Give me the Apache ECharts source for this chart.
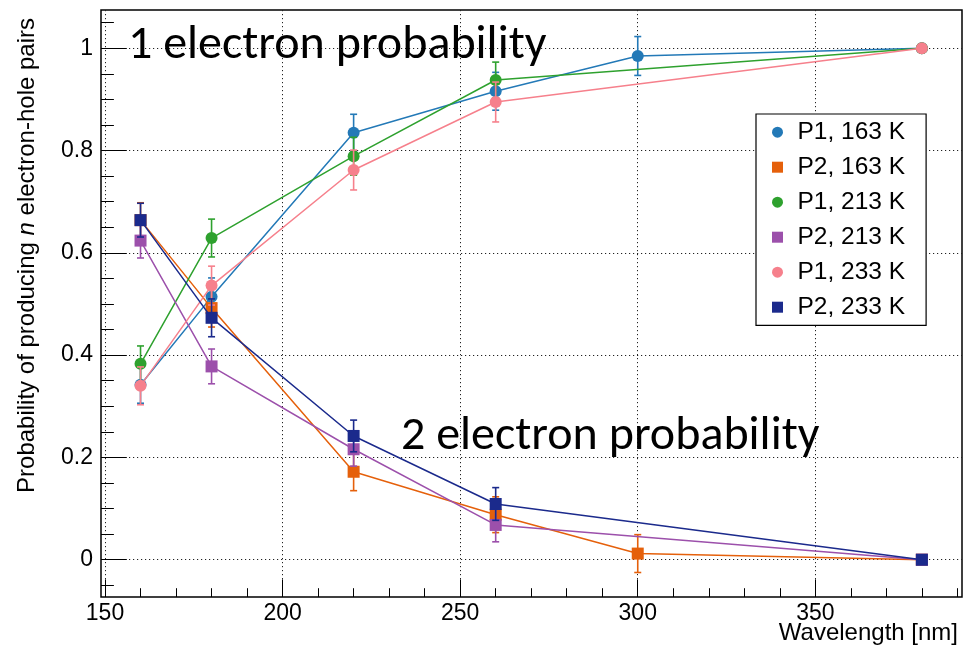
<!DOCTYPE html>
<html>
<head>
<meta charset="utf-8">
<title>Electron-hole pair probability vs wavelength</title>
<script src="https://cdn.jsdelivr.net/npm/echarts@6/dist/echarts.min.js"></script>
<style>
  html, body { margin: 0; padding: 0; background: #fff; }
  #chart { width: 963px; height: 652px; }
</style>
</head>
<body>
<div id="chart"></div>
<script>
// Wavelengths measured (nm)
const wlFull = [160, 180, 220, 260, 300, 380];
const wlShort = [160, 180, 220, 260, 380];

// Probability of one / two electron-hole pairs, with symmetric errors
const p1_163 = [0.342, 0.514, 0.835, 0.916, 0.985, 1.0];
const p1_163Err = [0.036, 0.037, 0.036, 0.037, 0.038, 0];
const p2_163 = [0.664, 0.492, 0.172, 0.088, 0.012, 0.0];
const p2_163Err = [0.034, 0.037, 0.037, 0.035, 0.037, 0];
const p1_213 = [0.383, 0.629, 0.789, 0.938, 1.0];
const p1_213Err = [0.035, 0.037, 0.037, 0.035, 0];
const p2_213 = [0.624, 0.378, 0.216, 0.068, 0.0];
const p2_213Err = [0.034, 0.034, 0.033, 0.033, 0];
const p1_233 = [0.340, 0.536, 0.762, 0.895, 1.0];
const p1_233Err = [0.037, 0.038, 0.039, 0.039, 0];
const p2_233 = [0.664, 0.473, 0.242, 0.109, 0.0];
const p2_233Err = [0.033, 0.037, 0.031, 0.032, 0];

const seriesNames = ['P1, 163 K', 'P2, 163 K', 'P1, 213 K', 'P2, 213 K', 'P1, 233 K', 'P2, 233 K'];

// Axis ticks
const xMajorTicks = [150, 200, 250, 300, 350];
const xMinorTicks = [160, 170, 180, 190, 210, 220, 230, 240, 260, 270, 280, 290, 310, 320, 330, 340, 360, 370, 380, 390];
const yMajorTicks = [0, 0.2, 0.4, 0.6, 0.8, 1];
const yMinorTicks = [-0.05, 0.05, 0.1, 0.15, 0.25, 0.3, 0.35, 0.45, 0.5, 0.55, 0.65, 0.7, 0.75, 0.85, 0.9, 0.95, 1.05];

const annotationTop = '1 electron probability';
const annotationBottom = '2 electron probability';

// ---- styling ----
const colors = ['#2379b7', '#e5600b', '#2ea12e', '#9c50ab', '#f6808c', '#1b2a8c'];
const symbols = ['circle', 'rect', 'circle', 'rect', 'circle', 'rect'];
const squareIcon = 'path://M0,0H10V10H0Z';
const xs = [wlFull, wlFull, wlShort, wlShort, wlShort, wlShort];
const ys = [p1_163, p2_163, p1_213, p2_213, p1_233, p2_233];
const errs = [p1_163Err, p2_163Err, p1_213Err, p2_213Err, p1_233Err, p2_233Err];

const X_MIN = 148.87, X_MAX = 391.3;
const Y_MIN = -0.0729, Y_MAX = 1.0749;
const FRAME = { left: 101, top: 10, width: 861, height: 587 };
const axisFont = 'Liberation Sans, Arial, Helvetica, sans-serif';
const noteFont = 'Carlito, Lato, sans-serif';

function errorBarItem(params, api) {
  const x = api.value(0), y = api.value(1), e = api.value(2);
  if (!e) return null;
  const hi = api.coord([x, y + e]);
  const lo = api.coord([x, y - e]);
  const hw = 3.5;
  const style = { stroke: api.visual('color'), lineWidth: 1.6 };
  return {
    type: 'group',
    children: [
      { type: 'line', shape: { x1: hi[0], y1: hi[1], x2: lo[0], y2: lo[1] }, style },
      { type: 'line', shape: { x1: hi[0] - hw, y1: hi[1], x2: hi[0] + hw, y2: hi[1] }, style },
      { type: 'line', shape: { x1: lo[0] - hw, y1: lo[1], x2: lo[0] + hw, y2: lo[1] }, style }
    ]
  };
}

const series = [];
seriesNames.forEach((name, i) => {
  series.push({
    name: name + ' errors',
    type: 'custom',
    xAxisIndex: 0, yAxisIndex: 0,
    renderItem: errorBarItem,
    itemStyle: { color: colors[i] },
    encode: { x: 0, y: 1 },
    data: xs[i].map((x, k) => [x, ys[i][k], errs[i][k]]),
    z: 2 + i * 2,
    silent: true
  });
  series.push({
    name: name,
    type: 'line',
    xAxisIndex: 0, yAxisIndex: 0,
    data: xs[i].map((x, k) => [x, ys[i][k]]),
    symbol: symbols[i],
    symbolSize: 12,
    showSymbol: true,
    color: colors[i],
    itemStyle: { color: colors[i] },
    lineStyle: { color: colors[i], width: 1.5 },
    z: 3 + i * 2,
    silent: true,
    emphasis: { disabled: true }
  });
});

const gridLine = { show: true, lineStyle: { color: '#222', width: 1, type: [1.2, 2.8] } };
const noLine = { show: false, onZero: false };

const option = {
  animation: false,
  backgroundColor: '#fff',
  grid: [
    Object.assign({ show: true, borderColor: '#000', borderWidth: 1.5, backgroundColor: 'transparent', outerBoundsMode: 'none', containLabel: false }, FRAME),
    Object.assign({ show: false, outerBoundsMode: 'none', containLabel: false }, FRAME)
  ],
  xAxis: [
    {
      type: 'value', gridIndex: 0, min: X_MIN, max: X_MAX, position: 'bottom',
      axisLine: noLine,
      axisTick: { show: true, inside: true, length: 17.6, customValues: xMajorTicks, lineStyle: { color: '#000', width: 1 } },
      axisLabel: { show: true, customValues: xMajorTicks, margin: 5, color: '#000', fontSize: 23, fontFamily: axisFont, showMinLabel: true, showMaxLabel: true },
      splitLine: gridLine
    },
    {
      type: 'value', gridIndex: 1, min: X_MIN, max: X_MAX, position: 'bottom',
      axisLine: noLine,
      axisTick: { show: true, inside: true, length: 8.8, customValues: xMinorTicks, lineStyle: { color: '#000', width: 1 } },
      axisLabel: { show: false },
      splitLine: { show: false }
    }
  ],
  yAxis: [
    {
      type: 'value', gridIndex: 0, min: Y_MIN, max: Y_MAX, position: 'left',
      axisLine: noLine,
      axisTick: { show: true, inside: true, length: 25.8, customValues: yMajorTicks, lineStyle: { color: '#000', width: 1 } },
      axisLabel: { show: true, customValues: yMajorTicks, margin: 8, color: '#000', fontSize: 23, fontFamily: axisFont },
      splitLine: gridLine
    },
    {
      type: 'value', gridIndex: 1, min: Y_MIN, max: Y_MAX, position: 'left',
      axisLine: noLine,
      axisTick: { show: true, inside: true, length: 12.9, customValues: yMinorTicks, lineStyle: { color: '#000', width: 1 } },
      axisLabel: { show: false },
      splitLine: { show: false }
    }
  ],
  legend: {
    orient: 'vertical',
    left: 756, top: 114,
    backgroundColor: '#fff',
    borderColor: '#000', borderWidth: 1.2, borderRadius: 0,
    padding: [5.7, 21, 5.7, 16],
    itemGap: 10,
    itemWidth: 30, itemHeight: 11,
    symbolKeepAspect: true,
    selectedMode: false,
    textStyle: { color: '#000', fontSize: 24.5, fontFamily: axisFont },
    itemStyle: { borderWidth: 0 },
    data: seriesNames.map((n, i) => ({
      name: n,
      icon: symbols[i] === 'rect' ? squareIcon : 'circle',
      itemStyle: { color: colors[i], borderWidth: 0 }
    }))
  },
  graphic: [
    {
      type: 'text', left: 128, top: 22, z: 50, silent: true,
      style: { text: annotationTop, fill: '#000', font: '48px ' + noteFont }
    },
    {
      type: 'text', left: 401, top: 413, z: 50, silent: true,
      style: { text: annotationBottom, fill: '#000', font: '48px ' + noteFont }
    },
    {
      type: 'text', right: 5, top: 621, z: 50, silent: true,
      style: { text: 'Wavelength [nm]', fill: '#000', font: '24px ' + axisFont }
    },
    {
      type: 'text', x: 27, y: 18, rotation: Math.PI / 2, z: 50, silent: true,
      style: {
        text: '{a|Probability of producing }{i|n}{a| electron-hole pairs}',
        align: 'right', verticalAlign: 'middle',
        rich: {
          a: { fill: '#000', fontSize: 24, fontFamily: axisFont },
          i: { fill: '#000', fontSize: 24, fontFamily: axisFont, fontStyle: 'italic' }
        }
      }
    }
  ],
  series: series
};

const chart = echarts.init(document.getElementById('chart'), null, { renderer: 'canvas' });
chart.setOption(option);
</script>
</body>
</html>
